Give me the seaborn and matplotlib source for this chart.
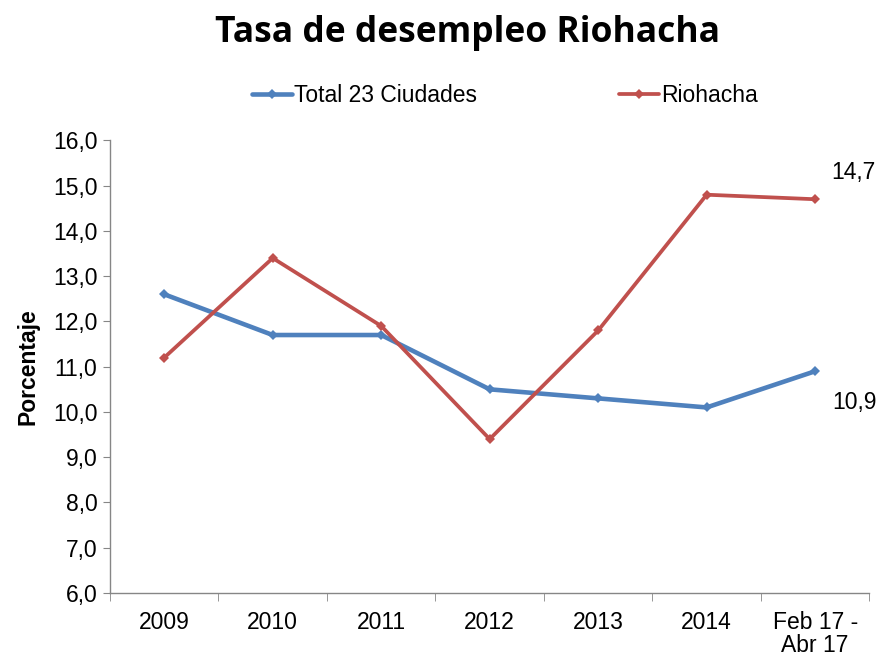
import matplotlib
matplotlib.use("Agg")
import matplotlib.pyplot as plt
import seaborn as sns
import numpy as np
import pandas as pd

periods = ["2009", "2010", "2011", "2012", "2013", "2014", "Feb 17 -\nAbr 17"]
total_23 = [12.6, 11.7, 11.7, 10.5, 10.3, 10.1, 10.9]
riohacha = [11.2, 13.4, 11.9, 9.4, 11.8, 14.8, 14.7]
series_names = ["Total 23 Ciudades", "Riohacha"]
colors = ["#4F81BD", "#C0504D"]

df = pd.DataFrame({
    "pos": list(range(len(periods))) * 2,
    "value": total_23 + riohacha,
    "serie": [series_names[0]] * len(periods) + [series_names[1]] * len(periods),
})

sns.set_style("white")
plt.rcParams["font.family"] = ["Liberation Sans", "DejaVu Sans"]
plt.rcParams["text.color"] = "black"
plt.rcParams["axes.labelcolor"] = "black"

FS = 16.5
fig = plt.figure(figsize=(8.82, 6.57), dpi=100)
ax = fig.add_axes([0.1247, 0.0974, 0.861, 0.6889])

sns.lineplot(data=df, x="pos", y="value", hue="serie", hue_order=series_names,
             palette=colors, marker="D", markersize=5, markeredgewidth=0,
             ax=ax, legend=False)
for line, lw in zip(ax.get_lines(), [3.3, 2.7]):
    line.set_linewidth(lw)

ax.set_xlim(-0.5, len(periods) - 0.5)
ax.set_ylim(6, 16)
ax.set_yticks(np.arange(6, 16.1, 1))
ax.set_yticklabels([f"{v:.1f}".replace(".", ",") for v in np.arange(6, 16.1, 1)], fontsize=FS)
ax.set_xticks(range(len(periods)))
ax.set_xticklabels(periods, fontsize=FS, linespacing=1.0)
ax.set_xticks(np.arange(-0.5, len(periods), 1), minor=True)
ax.tick_params(axis="x", which="major", length=0, pad=13, labelcolor="black")
ax.tick_params(axis="x", which="minor", length=6, color="#868686", direction="out", bottom=True)
ax.tick_params(axis="y", length=5, color="#868686", direction="out", left=True, pad=4,
               labelcolor="black")

for side in ["top", "right"]:
    ax.spines[side].set_visible(False)
for side in ["left", "bottom"]:
    ax.spines[side].set_color("#868686")
    ax.spines[side].set_linewidth(1.0)

ax.set_xlabel("")
ax.set_ylabel("Porcentaje", fontsize=FS, fontweight="bold")
ax.yaxis.set_label_coords(-0.093, 0.501)

last = len(periods) - 1
ax.annotate(f"{riohacha[-1]:.1f}".replace(".", ","), xy=(last, riohacha[-1]),
            xytext=(38, 27), textcoords="offset pixels", ha="center", va="center",
            fontsize=FS)
ax.annotate(f"{total_23[-1]:.1f}".replace(".", ","), xy=(last, total_23[-1]),
            xytext=(39, -31), textcoords="offset pixels", ha="center", va="center",
            fontsize=FS)

handles = [plt.Line2D([], [], color=c, lw=lw, marker="D", markersize=5, markeredgewidth=0)
           for c, lw in zip(colors, [3.3, 2.7])]
fig.legend(handles, series_names, loc="center", bbox_to_anchor=(0.5726, 0.854), ncol=2,
           frameon=False, fontsize=FS, handlelength=1.75, handletextpad=0.1,
           columnspacing=6.2)

fig.text(0.53, 0.95, "Tasa de desempleo Riohacha", ha="center", va="center",
         fontsize=25.5, fontweight="bold", family=["Open Sans", "DejaVu Sans"])

fig.savefig("out.png", dpi=100)
